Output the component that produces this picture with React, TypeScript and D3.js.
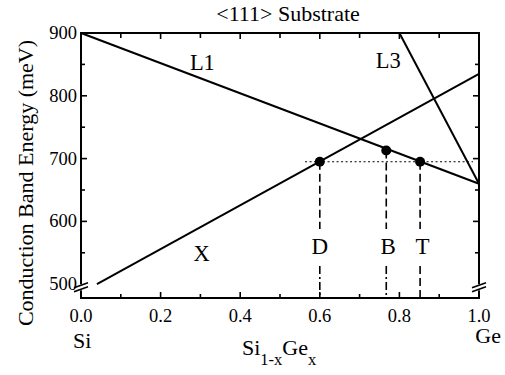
import React from 'react'
import * as d3 from 'd3'

const width = 505
const height = 375
const margin = { top: 33, right: 26, bottom: 77, left: 81 }
const font = '"Liberation Serif", "Times New Roman", serif'

// composition axis (x = Ge fraction), energy axis in meV
const xMajor = [0, 0.2, 0.4, 0.6, 0.8, 1.0]
const xMinor = [0.1, 0.3, 0.5, 0.7, 0.9]
const yMajor = [600, 700, 800, 900]
const yMinor = [550, 650, 750, 850]
const yLabels = [500, 600, 700, 800, 900]

// band edges: [x, meV]
const lineL1 = [[0, 900], [1.0, 660]]
const lineX = [[0.04, 500], [1.0, 835]]
const lineL3 = [[0.8, 900], [1.0, 660]]

const level = 695
const levelFrom = 0.563
const levelTo = 0.985

// markers: D, B, T
const markerNames = ['D', 'B', 'T']
const markerX = [0.6, 0.767, 0.852]
const markerY = [695, 713, 695]
const markerLabelX = [0.6, 0.772, 0.858]
const labelY = 548
const gapTop = 588
const gapBottom = 529

const bandNames = ['L1', 'L3', 'X']
const bandLabelX = [0.305, 0.772, 0.303]
const bandLabelY = [841, 844, 537]

const breakAt = 495

export default function App() {
  const x = d3.scaleLinear().domain([0, 1]).range([margin.left, width - margin.right])
  const y = d3.scaleLinear().domain([478, 900]).range([height - margin.bottom, margin.top])
  const line = d3.line<number[]>().x(d => x(d[0])).y(d => y(d[1]))

  const x0 = x(0), x1 = x(1), yb = y(478), yt = y(900)

  const brk = (cx: number) => {
    const cy = y(breakAt)
    return (
      <g key={cx}>
        <rect x={cx - 3} y={cy - 3} width={6} height={6} fill="white" />
        <line x1={cx - 7} y1={cy + 0.5} x2={cx + 7} y2={cy - 4.5} stroke="black" strokeWidth={1.6} />
        <line x1={cx - 7} y1={cy + 4.5} x2={cx + 7} y2={cy - 0.5} stroke="black" strokeWidth={1.6} />
      </g>
    )
  }

  return (
    <svg width={width} height={height} style={{ position: 'absolute', left: 0, top: 0, background: 'white' }}
      fontFamily={font}>
      {/* frame */}
      <rect x={x0} y={yt} width={x1 - x0} height={yb - yt} fill="none" stroke="black" strokeWidth={2} />

      {/* ticks, all inward */}
      {xMajor.map(v => (
        <g key={'xm' + v}>
          <line x1={x(v)} x2={x(v)} y1={yb} y2={yb - 6} stroke="black" strokeWidth={1.6} />
          <line x1={x(v)} x2={x(v)} y1={yt} y2={yt + 6} stroke="black" strokeWidth={1.6} />
          <text x={x(v)} y={322} textAnchor="middle" fontSize={18.5}>{d3.format('.1f')(v)}</text>
        </g>
      ))}
      {xMinor.map(v => (
        <g key={'xn' + v}>
          <line x1={x(v)} x2={x(v)} y1={yb} y2={yb - 4} stroke="black" strokeWidth={1.6} />
          <line x1={x(v)} x2={x(v)} y1={yt} y2={yt + 5} stroke="black" strokeWidth={1.6} />
        </g>
      ))}
      {yMajor.map(v => (
        <g key={'ym' + v}>
          <line x1={x0} x2={x0 + 6} y1={y(v)} y2={y(v)} stroke="black" strokeWidth={1.6} />
          <line x1={x1} x2={x1 - 6} y1={y(v)} y2={y(v)} stroke="black" strokeWidth={1.6} />
        </g>
      ))}
      {yMinor.map(v => (
        <g key={'yn' + v}>
          <line x1={x0} x2={x0 + 4} y1={y(v)} y2={y(v)} stroke="black" strokeWidth={1.6} />
          <line x1={x1} x2={x1 - 4} y1={y(v)} y2={y(v)} stroke="black" strokeWidth={1.6} />
        </g>
      ))}
      {yLabels.map(v => (
        <text key={'yl' + v} x={x0 - 4} y={y(v) + 6} textAnchor="end" fontSize={18.5}>{v}</text>
      ))}

      {/* axis breaks */}
      {brk(x0)}
      {brk(x1)}

      {/* band lines */}
      {[lineL1, lineX, lineL3].map((d, i) => (
        <path key={'b' + i} d={line(d) || ''} fill="none" stroke="black" strokeWidth={2} />
      ))}

      {/* reference level */}
      <line x1={x(levelFrom)} x2={x(levelTo)} y1={y(level)} y2={y(level)} stroke="black"
        strokeWidth={1.2} strokeDasharray="2,2.5" />

      {/* markers */}
      {markerNames.map((n, i) => (
        <g key={n}>
          <line x1={x(markerX[i])} x2={x(markerX[i])} y1={y(markerY[i])} y2={y(gapTop)}
            stroke="black" strokeWidth={1.6} strokeDasharray="8,4" />
          <line x1={x(markerX[i])} x2={x(markerX[i])} y1={y(gapBottom)} y2={yb}
            stroke="black" strokeWidth={1.6} strokeDasharray={i === 2 ? '8,4' : '8,3,2,3'} />
          <circle cx={x(markerX[i])} cy={y(markerY[i])} r={5} fill="black" />
          <text x={x(markerLabelX[i])} y={y(labelY)} textAnchor="middle" fontSize={23}>{n}</text>
        </g>
      ))}

      {bandNames.map((n, i) => (
        <text key={n} x={x(bandLabelX[i])} y={y(bandLabelY[i])} textAnchor="middle" fontSize={22.5}>{n}</text>
      ))}

      {/* titles */}
      <text x={288} y={21} textAnchor="middle" fontSize={22}>{'<111> Substrate'}</text>
      <text transform={`translate(33,183) rotate(-90)`} textAnchor="middle" fontSize={22}>
        Conduction Band Energy (meV)
      </text>
      <text x={73} y={348} fontSize={22}>Si</text>
      <text x={501} y={343} textAnchor="end" fontSize={22}>Ge</text>
      <text x={242} y={355} fontSize={22}>
        Si<tspan dy={10} fontSize={16.5}>1-x</tspan><tspan dy={-10}>Ge</tspan><tspan dy={10} fontSize={16.5}>x</tspan>
      </text>
    </svg>
  )
}
